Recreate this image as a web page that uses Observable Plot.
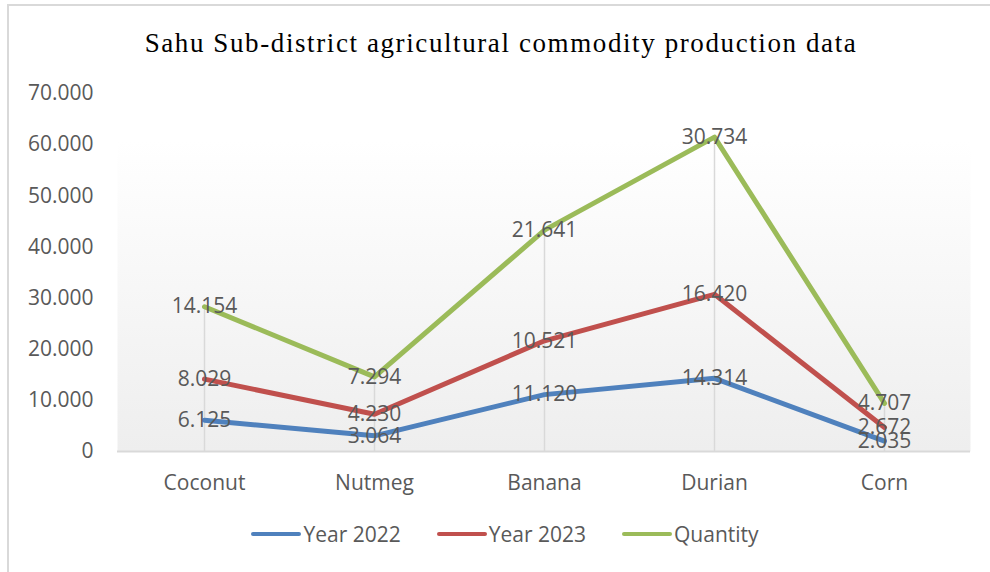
<!DOCTYPE html>
<html><head><meta charset="utf-8">
<script src="https://cdn.jsdelivr.net/npm/d3@7"></script>
<script src="https://cdn.jsdelivr.net/npm/@observablehq/plot@0.6"></script>
<style>
html,body{margin:0;padding:0;background:#fff;}
#wrap{position:relative;width:990px;height:572px;overflow:hidden;font-family:"Open Sans",sans-serif;}
#frame{position:absolute;left:7px;top:4px;width:990px;height:600px;border-left:2px solid #d9d9d9;border-top:2px solid #d9d9d9;box-sizing:border-box;}
#title{position:absolute;left:0;width:1002px;top:28px;text-align:center;font-family:"Liberation Serif",serif;font-size:27px;letter-spacing:1.6px;color:#000;}
#chart{position:absolute;left:0;top:0;}
#legend{position:absolute;top:520px;left:0;width:1010px;display:flex;justify-content:center;gap:36px;font-size:21px;color:#595959;}
#legend span{display:flex;align-items:center;}
#legend i{display:inline-block;width:50px;height:4px;border-radius:2px;margin-right:2px;}
</style></head>
<body><div id="wrap"><div id="frame"></div><div id="title">Sahu Sub-district agricultural commodity production data</div><div id="chart"></div><div id="legend"></div></div>
<script>
const categories = ["Coconut","Nutmeg","Banana","Durian","Corn"];
const seriesNames = ["Year 2022","Year 2023","Quantity"];
const year2022 = [6125,3064,11120,14314,2035];
const year2023 = [8029,4230,10521,16420,2672];
const quantity = [14154,7294,21641,30734,4707];
const colors = ["#4f81bd","#c0504d","#9bbb59"];
const yTicks = [0,10000,20000,30000,40000,50000,60000,70000];

const fmt = d => d === 0 ? "0" : d3.format(",")(d).replace(/,/g,".");
const seriesVals = [year2022, year2023, quantity];
const rows = [];
categories.forEach((c,i)=>{
  let acc = 0;
  seriesVals.forEach((arr,s)=>{
    const y1 = acc; acc += arr[i];
    rows.push({cat:c, series:seriesNames[s], value:arr[i], y1, y2:acc});
  });
});
const tops = rows.filter(d=>d.series==="Quantity");

const plot = Plot.plot({
  width:990, height:572,
  marginTop:93, marginBottom:121, marginLeft:117, marginRight:20,
  style:{fontFamily:"Open Sans, sans-serif", fontSize:"21px", color:"#595959", background:"transparent", overflow:"visible"},
  x:{type:"point", domain:categories, padding:0.5, label:null, tickSize:0, tickPadding:24},
  y:{domain:[0,70000], ticks:yTicks, tickFormat:fmt, label:null, tickSize:0, tickPadding:24},
  color:{domain:seriesNames, range:colors},
  marks:[
    Plot.frame({insetTop:47, fill:"url(#bggrad)", stroke:null, className:"bgframe"}),
    Plot.ruleY([0],{stroke:"#d9d9d9", strokeWidth:2}),
    Plot.ruleX(tops,{x:"cat", y1:0, y2:"y2", stroke:"#d9d9d9", strokeWidth:1.5}),
    Plot.line(rows,{x:"cat", y:"y2", z:"series", stroke:"series", strokeWidth:5, strokeLinejoin:"round", strokeLinecap:"round"}),
    Plot.text(rows,{x:"cat", y:"y2", text:d=>fmt(d.value), fill:"#595959", fontSize:21, dy:0})
  ]
});
const svg = d3.select(plot);
const defs = svg.insert("defs",":first-child");
const g = defs.append("linearGradient").attr("id","bggrad").attr("x1",0).attr("y1",0).attr("x2",0).attr("y2",1);
g.append("stop").attr("offset","0%").attr("stop-color","#ffffff");
g.append("stop").attr("offset","100%").attr("stop-color","#eeeeee");
document.getElementById("chart").appendChild(plot);

const leg = d3.select("#legend");
seriesNames.forEach((n,i)=>{
  const s = leg.append("span");
  s.append("i").style("background",colors[i]);
  s.append("text").text(n);
});
</script></body></html>
